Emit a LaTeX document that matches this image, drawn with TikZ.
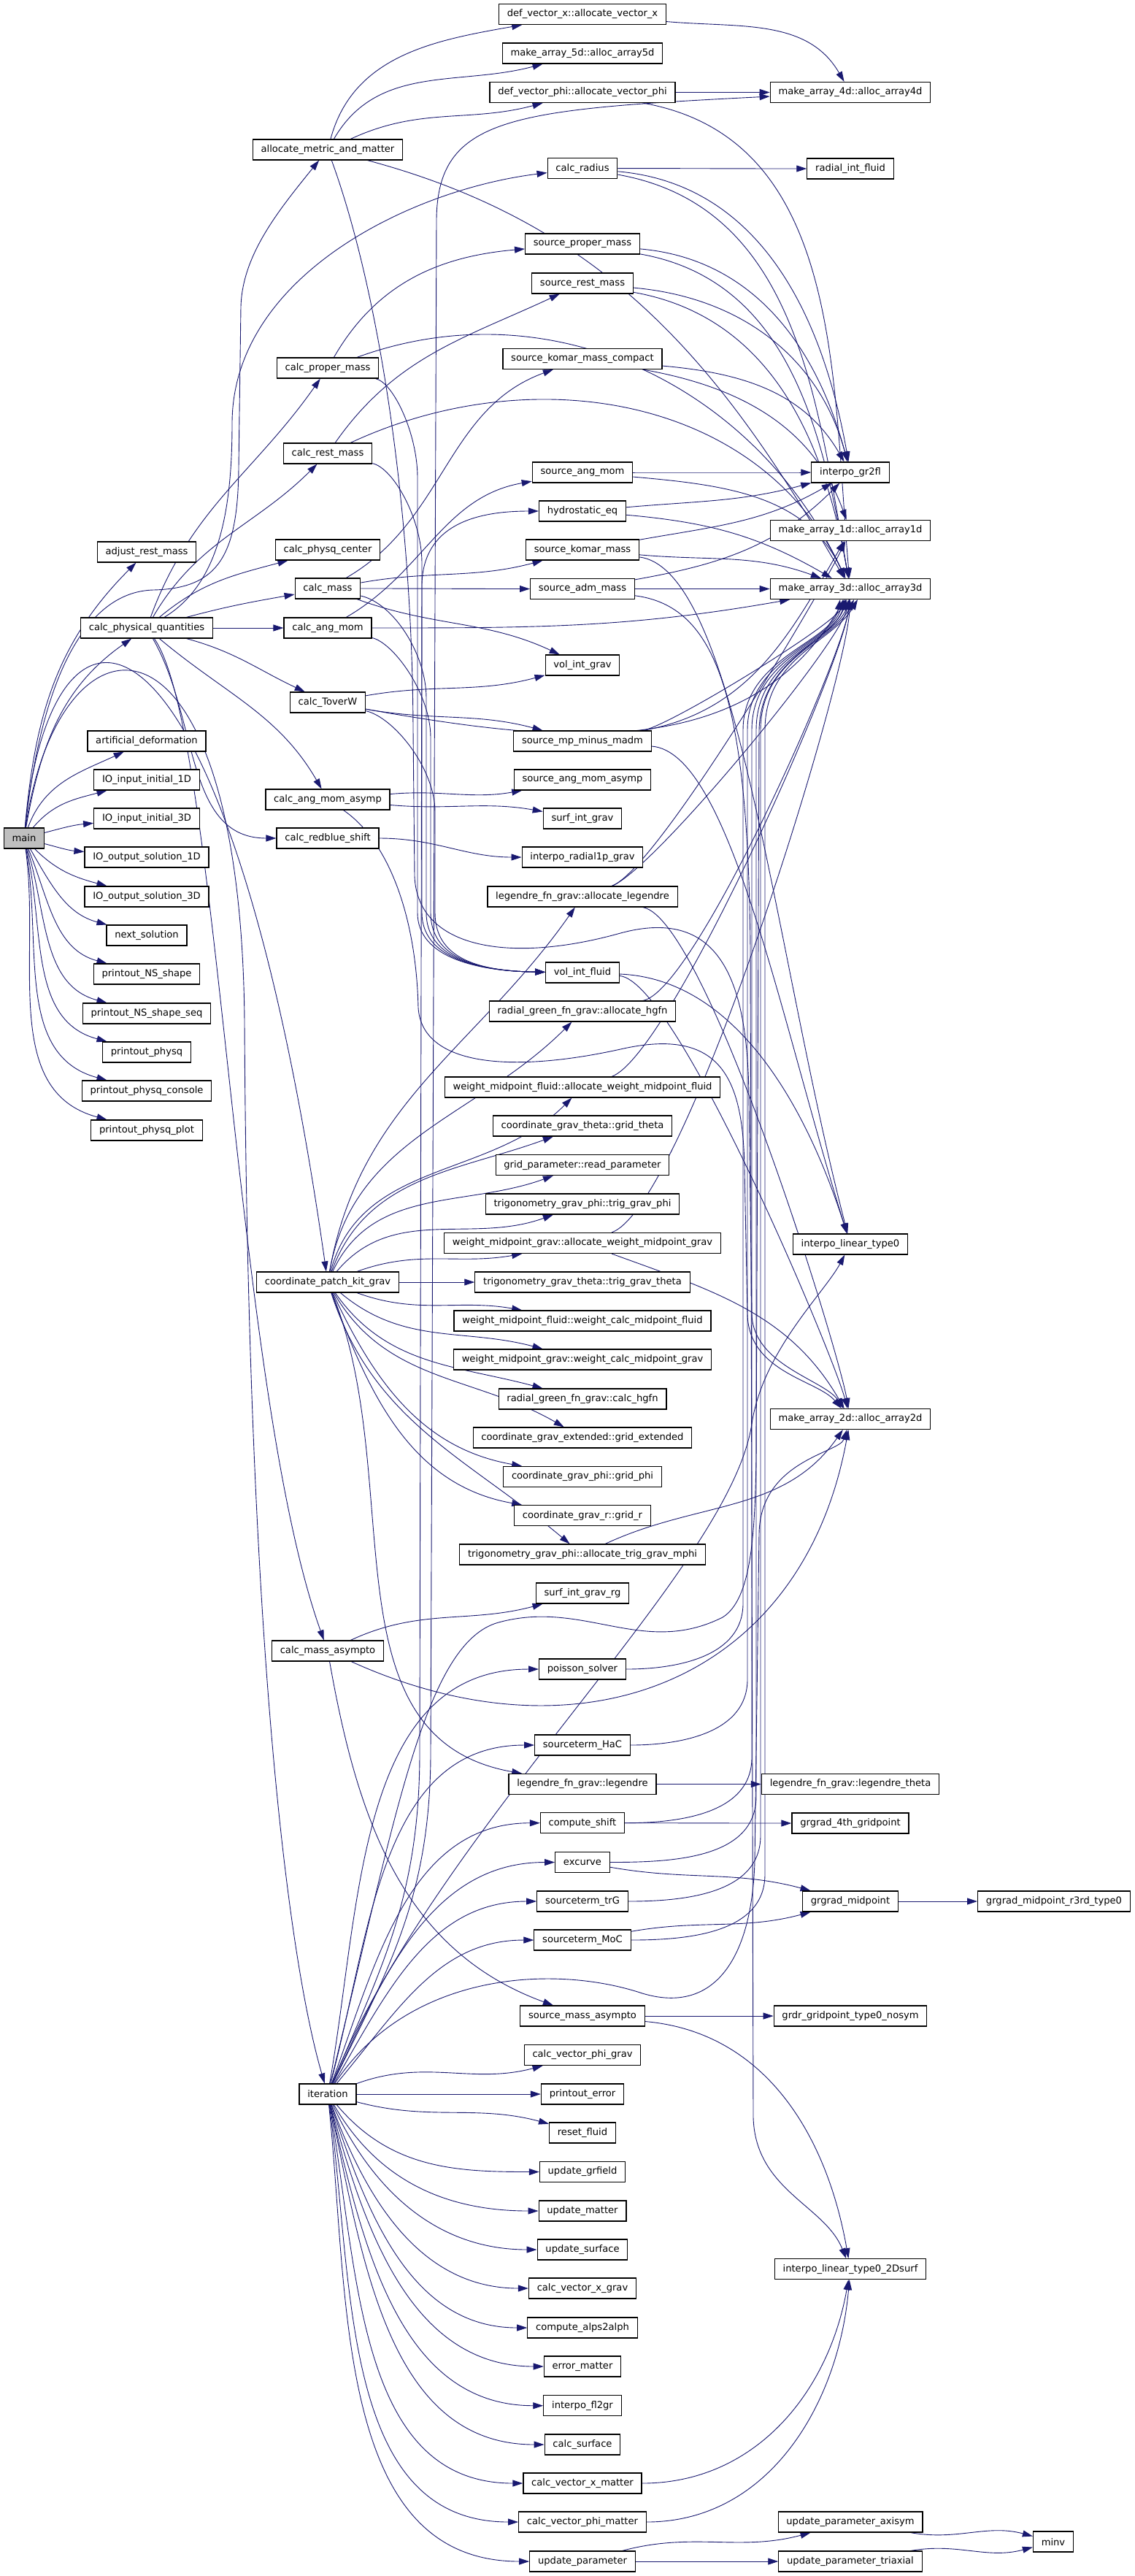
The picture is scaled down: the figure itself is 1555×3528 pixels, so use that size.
\documentclass[tikz,border=0pt]{standalone}
\usepackage{fontspec}
\setmainfont{DejaVu Sans}
\usetikzlibrary{arrows.meta, backgrounds}
\definecolor{edgeblue}{RGB}{25,25,112}
\definecolor{maingray}{RGB}{191,191,191}

\begin{document}
\begin{tikzpicture}[x=1pt, y=1pt,
    every node/.style={draw, rectangle, fill=white, line width=1.2pt, minimum height=28pt,
        inner xsep=11.3pt, inner ysep=0pt, font=\fontsize{13.1}{15}\selectfont},
    call/.style={draw=edgeblue, line width=0.9pt, -{Triangle[length=14pt, width=9pt]}, out=0, in=180},
    flat/.style={looseness=0.3}]
    \useasboundingbox (0,0) rectangle (1555,-3528);

    % Caller
    \node[fill=maingray] (main) at (33,-1148) {main};

    % Called from main
    \foreach \nm/\yy/\lbl in {adjust/756/adjust\_rest\_mass, cpq/860/calc\_physical\_quantities,
        artdef/1015/artificial\_deformation, ioin1/1068/IO\_input\_initial\_1D,
        ioin3/1121/IO\_input\_initial\_3D, ioout1/1174/IO\_output\_solution\_1D,
        ioout3/1228/IO\_output\_solution\_3D, nextsol/1281/next\_solution,
        prNS/1334/printout\_NS\_shape, prNSseq/1388/printout\_NS\_shape\_seq,
        prphysq/1441/printout\_physq, prcons/1494/printout\_physq\_console,
        prplot/1548/printout\_physq\_plot} {
        \node (\nm) at (201,-\yy) {\lbl};
    }

    % Second level
    \foreach \nm/\yy/\lbl in {amm/205/allocate\_metric\_and\_matter, cpropm/504/calc\_proper\_mass,
        crestm/621/calc\_rest\_mass, cphysqc/753/calc\_physq\_center, cmass/806/calc\_mass,
        cangmom/860/calc\_ang\_mom, ctoverw/962/calc\_ToverW, cangasym/1095/calc\_ang\_mom\_asymp,
        credblue/1148/calc\_redblue\_shift, cpkg/1756/coordinate\_patch\_kit\_grav,
        cmasym/2261/calc\_mass\_asympto, iter/2868/iteration} {
        \node (\nm) at (449,-\yy) {\lbl};
    }

    % Third level
    \foreach \nm/\yy/\lbl in {defvx/19.5/def\_vector\_x::allocate\_vector\_x,
        ma5d/73/make\_array\_5d::alloc\_array5d,
        defvphi/126.5/def\_vector\_phi::allocate\_vector\_phi,
        cradius/230.6/calc\_radius, sprop/334/source\_proper\_mass, srest/388/source\_rest\_mass,
        skomc/491.5/source\_komar\_mass\_compact, sangmom/647/source\_ang\_mom,
        hydro/700/hydrostatic\_eq, skom/753/source\_komar\_mass, sadm/806.5/source\_adm\_mass,
        volgrav/911/vol\_int\_grav, smpmadm/1015/source\_mp\_minus\_madm,
        sangasym/1068/source\_ang\_mom\_asymp, surfgrav/1121/surf\_int\_grav,
        interprad/1174/interpo\_radial1p\_grav,
        alloclegendre/1228/legendre\_fn\_grav::allocate\_legendre,
        volfluid/1332/vol\_int\_fluid,
        allochgfn/1385/radial\_green\_fn\_grav::allocate\_hgfn,
        allocwmf/1489/weight\_midpoint\_fluid::allocate\_weight\_midpoint\_fluid,
        gridtheta/1542/coordinate\_grav\_theta::grid\_theta,
        readparam/1595.6/grid\_parameter::read\_parameter,
        trigphi/1649/trigonometry\_grav\_phi::trig\_grav\_phi,
        allocwmg/1702.5/weight\_midpoint\_grav::allocate\_weight\_midpoint\_grav,
        trigtheta/1756/trigonometry\_grav\_theta::trig\_grav\_theta,
        wcmf/1809/weight\_midpoint\_fluid::weight\_calc\_midpoint\_fluid,
        wcmg/1862/weight\_midpoint\_grav::weight\_calc\_midpoint\_grav,
        calchgfn/1916/radial\_green\_fn\_grav::calc\_hgfn,
        gridext/1969/coordinate\_grav\_extended::grid\_extended,
        gridphi/2022.5/coordinate\_grav\_phi::grid\_phi,
        gridr/2075.6/coordinate\_grav\_r::grid\_r,
        alloctrig/2129/trigonometry\_grav\_phi::allocate\_trig\_grav\_mphi,
        surfrg/2182/surf\_int\_grav\_rg, poisson/2286/poisson\_solver,
        hac/2390/sourceterm\_HaC, legendre/2443.5/legendre\_fn\_grav::legendre,
        cshift/2496.7/compute\_shift, excurve/2550.5/excurve, trg/2604/sourceterm\_trG,
        moc/2657/sourceterm\_MoC, smasym/2761/source\_mass\_asympto,
        cvphig/2814.5/calc\_vector\_phi\_grav, prerror/2868/printout\_error,
        resetfl/2921/reset\_fluid, updgr/2974.5/update\_grfield, updmat/3028/update\_matter,
        updsurf/3081/update\_surface, cvxg/3134/calc\_vector\_x\_grav,
        alps/3188/compute\_alps2alph, errmat/3241/error\_matter, fl2gr/3294.7/interpo\_fl2gr,
        csurf/3348/calc\_surface, cvxm/3401/calc\_vector\_x\_matter,
        cvphim/3454/calc\_vector\_phi\_matter, updparam/3508/update\_parameter} {
        \node (\nm) at (798,-\yy) {\lbl};
    }

    % Fourth level
    \foreach \nm/\yy/\lbl in {ma4d/126.5/make\_array\_4d::alloc\_array4d,
        radint/231/radial\_int\_fluid, gr2fl/647/interpo\_gr2fl,
        ma1d/726.5/make\_array\_1d::alloc\_array1d, ma3d/806.5/make\_array\_3d::alloc\_array3d,
        interplin/1704/interpo\_linear\_type0, ma2d/1943.5/make\_array\_2d::alloc\_array2d,
        legtheta/2443.5/legendre\_fn\_grav::legendre\_theta,
        grgrad4/2497/grgrad\_4th\_gridpoint, grgradmid/2604/grgrad\_midpoint,
        grdr/2761/grdr\_gridpoint\_type0\_nosym,
        interp2d/3107.6/interpo\_linear\_type0\_2Dsurf,
        updaxi/3454/update\_parameter\_axisym, updtri/3508/update\_parameter\_triaxial} {
        \node (\nm) at (1165,-\yy) {\lbl};
    }

    % Fifth level
    \node (r3rd) at (1444,-2604) {grgrad\_midpoint\_r3rd\_type0};
    \node (minv) at (1443,-3481) {minv};

    \begin{scope}[on background layer]
    % Calls from main
    \foreach \tg/\dout/\din in {adjust/85/225, cpq/80/215, artdef/70/205, ioin1/50/195,
        ioin3/15/185, ioout1/-15/175, ioout3/-45/165, nextsol/-60/165, prNS/-68/165,
        prNSseq/-73/165, prphysq/-77/165, prcons/-80/165, prplot/-82/165} {
        \draw[call] (main) to[out=\dout, in=\din] (\tg);
    }
    \draw[call] (main) .. controls (60,-900) and (130,-810) .. (210,-808)
        .. controls (300,-806) and (326,-760) .. (327,-640) -- (330,-420)
        .. controls (332,-350) and (380,-290) .. (amm);
    \draw[call] (main) .. controls (70,-760) and (310,-780) .. (cpkg);
    \draw[call] (main) .. controls (80,-820) and (330,-800) .. (335,-1400)
        .. controls (340,-2300) and (400,-2700) .. (iter);

    % Calls from calc_physical_quantities
    \draw[call] (cpq) .. controls (300,-800) and (318,-700) .. (318,-580)
        .. controls (318,-380) and (560,-260) .. (cradius);
    \foreach \tg/\dout/\din in {cpropm/70/235, crestm/60/225, cphysqc/40/195, cmass/15/190,
        cangmom/0/180, ctoverw/-15/155, cangasym/-40/120, credblue/-60/180} {
        \draw[call] (cpq) to[out=\dout, in=\din] (\tg);
    }
    \draw[call] (cpq) .. controls (300,-1000) and (320,-1900) .. (cmasym);

    % Calls from allocate_metric_and_matter
    \foreach \tg/\dout/\din in {defvx/75/190, ma5d/60/195, defvphi/25/195} {
        \draw[call] (amm) to[out=\dout, in=\din] (\tg);
    }
    \draw[call] (amm) to[out=-15, in=120] (ma3d);
    \draw[call] (amm) .. controls (520,-400) and (565,-700) .. (566,-1000) -- (568,-1200)
        .. controls (572,-1300) and (700,-1320) .. (850,-1278)
        .. controls (990,-1240) and (1024,-1350) .. (1026,-1500) -- (1030,-1800)
        .. controls (1032,-1870) and (1130,-1890) .. (ma2d);
    \draw[call] (defvx) to[out=-5, in=120] (ma4d);
    \draw[call] (defvphi) to (ma4d);
    \draw[call] (defvphi) to[out=-10, in=95] (ma3d);

    % Calls from the mass and momentum routines
    \draw[call] (cpropm) to[out=60, in=185] (sprop);
    \draw[call] (cpropm) to[out=20, in=115] (ma3d);
    \draw[call] (crestm) to[out=55, in=205] (srest);
    \draw[call] (crestm) to[out=25, in=115] (ma3d);
    \foreach \tg/\dout/\din in {skomc/30/200, skom/10/195, sadm/0/180, volgrav/-20/155} {
        \draw[call] (cmass) to[out=\dout, in=\din] (\tg);
    }
    \draw[call] (cangmom) to[out=30, in=190] (sangmom);
    \draw[call] (cangmom) to[out=0, in=190] (ma3d);
    \draw[call] (ctoverw) to[out=10, in=195] (volgrav);
    \draw[call] (ctoverw) to[out=-10, in=240] (ma3d);
    \draw[call] (ctoverw) to[out=-10, in=165] (smpmadm);
    \foreach \sr/\yy/\ln in {cpropm/504/572, crestm/621/578, cmass/806/584, cangmom/860/590,
        ctoverw/962/596} {
        \draw[call] (\sr) .. controls +(90,-20) and (\ln,-\yy-90) .. (\ln,-\yy-150)
            -- (\ln,-1250) .. controls (\ln,-1310) and (650,-1330) .. (volfluid);
    }
    \draw[call] (cangasym) to[out=5, in=190] (sangasym);
    \draw[call] (cangasym) to[out=-5, in=170] (surfgrav);
    \draw[call] (cangasym) .. controls (530,-1150) and (570,-1250) .. (573,-1380)
        .. controls (578,-1460) and (700,-1470) .. (850,-1437)
        .. controls (990,-1405) and (1018,-1480) .. (1020,-1600) -- (1024,-1800)
        .. controls (1026,-1880) and (1120,-1890) .. (ma2d);
    \draw[call] (credblue) to (interprad);

    % Calls into the interpolation and array routines
    \draw[call] (cradius) to (radint);
    \draw[call] (cradius) to[out=-5, in=100] (gr2fl);
    \draw[call] (cradius) to[out=-10, in=100] (ma3d);
    \foreach \sr in {sprop, srest} {
        \draw[call] (\sr) to[out=-5, in=105] (gr2fl);
        \draw[call] (\sr) to[out=-10, in=100] (ma3d);
    }
    \draw[call] (skomc) to[out=-5, in=120] (gr2fl);
    \draw[call] (skomc) to[out=-10, in=110] (ma1d);
    \draw[call] (sangmom) to (gr2fl);
    \draw[call] (sangmom) to[out=-5, in=115] (ma3d);
    \draw[call] (hydro) to[out=5, in=195] (gr2fl);
    \draw[call] (hydro) to[out=-5, in=150] (ma3d);
    \draw[call] (skom) to[out=10, in=210] (gr2fl);
    \draw[call] (skom) to[out=-5, in=160] (ma3d);
    \draw[call] (skom) .. controls (1010,-780) and (1060,-1300) .. (interplin);
    \draw[call] (sadm) to[out=10, in=225] (gr2fl);
    \draw[call] (sadm) to (ma3d);
    \draw[call] (sadm) .. controls (980,-830) and (1025,-950) .. (1028,-1300)
        -- (1032,-2900) .. controls (1035,-3000) and (1130,-3020) .. (interp2d);
    \draw[call] (smpmadm) to[out=10, in=240] (ma1d);
    \draw[call] (smpmadm) to[out=10, in=245, flat] (ma3d);
    \draw[call] (smpmadm) .. controls (1000,-1030) and (1070,-1400) .. (interplin);
    \draw[call] (alloclegendre) to[out=20, in=245, flat] (ma1d);
    \draw[call] (alloclegendre) to[out=20, in=260, flat] (ma3d);
    \draw[call] (alloclegendre) to[out=-10, in=100, flat] (ma2d);
    \draw[call] (volfluid) .. controls (1000,-1340) and (1100,-1500) .. (interplin);
    \draw[call] (volfluid) to[out=-5, in=105, flat] (ma2d);
    \draw[call] (allochgfn) to[out=10, in=265, flat] (ma3d);
    \draw[call] (allocwmf) to[out=20, in=265, flat] (ma3d);
    \draw[call] (allocwmg) to[out=20, in=268, flat] (ma3d);
    \draw[call] (allocwmg) to[out=-20, in=120] (ma2d);
    \draw[call] (alloctrig) to[out=25, in=235] (ma2d);

    % Calls from coordinate_patch_kit_grav
    \foreach \tg/\dout/\din in {alloclegendre/80/235, allochgfn/80/225, allocwmf/75/225,
        gridtheta/70/200, readparam/65/200, trigphi/50/200, allocwmg/20/190,
        trigtheta/0/180, wcmf/-20/170, wcmg/-40/165, calchgfn/-55/165, gridext/-60/150,
        gridphi/-65/170, gridr/-70/170, alloctrig/-72/140, legendre/-68/170} {
        \draw[call] (cpkg) to[out=\dout, in=\din] (\tg);
    }

    % Calls from calc_mass_asympto
    \draw[call] (cmasym) to[out=25, in=195] (surfrg);
    \draw[call] (cmasym) .. controls (800,-2420) and (1100,-2300) .. (ma2d);
    \draw[call] (cmasym) to[out=-80, in=160] (smasym);

    % Calls from iteration
    \foreach \tg/\dout/\din in {poisson/80/180, hac/75/180, cshift/70/180, excurve/65/180,
        trg/60/180, moc/50/180, cvphig/20/195, prerror/0/180, resetfl/-15/165,
        updgr/-50/180, updmat/-60/180, updsurf/-65/180, cvxg/-70/180, alps/-72/180,
        errmat/-75/180, fl2gr/-77/180, csurf/-78/180, cvxm/-80/180, cvphim/-82/180,
        updparam/-84/180} {
        \draw[call] (iter) to[out=\dout, in=\din] (\tg);
    }
    \draw[call] (iter) .. controls (520,-2700) and (575,-2600) .. (575,-2400) -- (578,-800)
        .. controls (580,-720) and (650,-700) .. (hydro);
    \draw[call] (iter) .. controls (530,-2700) and (590,-2600) .. (590,-2400) -- (598,-300)
        .. controls (600,-160) and (700,-150) .. (ma4d);
    \draw[call] (iter) .. controls (540,-2500) and (580,-2250) .. (683,-2222)
        .. controls (800,-2190) and (880,-2270) .. (990,-2215)
        .. controls (1030,-2190) and (1034,-2100) .. (1036,-2000) -- (1040,-1000)
        .. controls (1042,-900) and (1140,-880) .. ([xshift=-6pt]ma3d.south);
    \draw[call] (iter) .. controls (600,-2500) and (1000,-2150) .. (1030,-1950)
        .. controls (1045,-1850) and (1130,-1770) .. (interplin);
    \draw[call] (iter) .. controls (560,-2700) and (760,-2690) .. (880,-2730)
        .. controls (980,-2760) and (1030,-2680) .. (1034,-2550) -- (1040,-2100)
        .. controls (1042,-2000) and (1150,-1990) .. (ma2d);

    % Calls from the solver routines
    \foreach \sr/\yy/\ln/\dx in {poisson/2286/1018/-14, hac/2390/1024/-10, cshift/2497/1030/-5,
        excurve/2550/1036/0, trg/2604/1042/5, moc/2657/1048/10} {
        \draw[call] (\sr) to[out=0, in=-90] (\ln,-\yy+90) -- (\ln,-1000)
            .. controls (\ln,-900) and (1140,-880) .. ([xshift=\dx pt]ma3d.south);
    }
    \draw[call] (legendre) to (legtheta);
    \draw[call] (cshift) to (grgrad4);
    \draw[call] (excurve) to[out=-10, in=165] (grgradmid);
    \draw[call] (moc) to[out=10, in=195] (grgradmid);
    \draw[call] (grgradmid) to (r3rd);
    \draw[call] (smasym) to (grdr);
    \draw[call] (smasym) to[out=-5, in=100] (interp2d);
    \draw[call] (cvxm) to[out=0, in=260] (interp2d);
    \draw[call] (cvphim) to[out=0, in=265] (interp2d);
    \draw[call] (updparam) to[out=15, in=195] (updaxi);
    \draw[call] (updparam) to (updtri);
    \draw[call] (updaxi) to[out=-10, in=165] (minv);
    \draw[call] (updtri) to[out=10, in=195] (minv);
    \end{scope}
\end{tikzpicture}
\end{document}
